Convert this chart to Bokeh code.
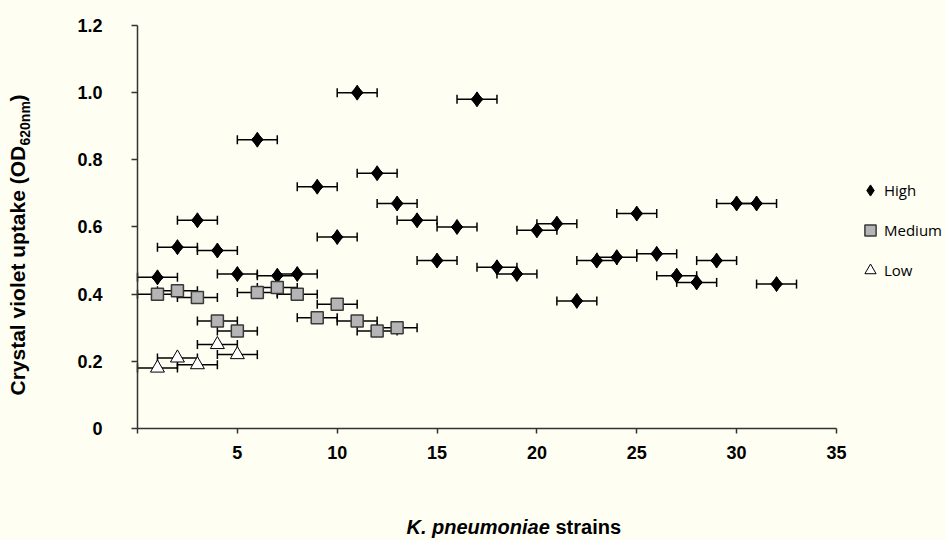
import math
from bokeh.plotting import figure
from bokeh.models import (ColumnDataSource, Whisker, TeeHead, FixedTicker, Label,
                          Legend, LegendItem, Range1d)
from bokeh.embed import file_html
from bokeh.resources import INLINE

# ---- data ----
high_x = list(range(1, 33))
high_y = [0.45, 0.54, 0.62, 0.53, 0.46, 0.86, 0.455, 0.46, 0.72, 0.57, 1.00, 0.76,
          0.67, 0.62, 0.50, 0.60, 0.98, 0.48, 0.46, 0.59, 0.61, 0.38, 0.50, 0.51,
          0.64, 0.52, 0.455, 0.435, 0.50, 0.67, 0.67, 0.43]
med_x = list(range(1, 14))
med_y = [0.40, 0.41, 0.39, 0.32, 0.29, 0.405, 0.42, 0.40, 0.33, 0.37, 0.32, 0.29, 0.30]
low_x = [1, 2, 3, 4, 5]
low_y = [0.18, 0.21, 0.19, 0.25, 0.22]
x_err = 1.0

x_ticks = [0, 5, 10, 15, 20, 25, 30, 35]
y_ticks = [0, 0.2, 0.4, 0.6, 0.8, 1.0, 1.2]
y_tick_labels = ["0", "0.2", "0.4", "0.6", "0.8", "1.0", "1.2"]
series_names = ["High", "Medium", "Low"]

CREAM = "#fefef3"
AXIS = "#333333"

W, H = 946, 540
# whole canvas is the frame; axes are pinned at x=0 / y=0 with bounds
p = figure(width=W, height=H, output_backend="svg", toolbar_location=None,
           x_range=Range1d(-6.86, 40.51), y_range=Range1d(-0.3335, 1.2744),
           min_border_left=0, min_border_right=0, min_border_top=0,
           min_border_bottom=0)
p.background_fill_color = CREAM
p.border_fill_color = CREAM
p.outline_line_color = None
p.xgrid.visible = False
p.ygrid.visible = False

def src(xs, ys):
    return ColumnDataSource(dict(x=xs, y=ys,
                                 lo=[v - x_err for v in xs],
                                 hi=[v + x_err for v in xs]))

s_high, s_med, s_low = src(high_x, high_y), src(med_x, med_y), src(low_x, low_y)

for s in (s_high, s_med, s_low):
    w = Whisker(source=s, base="y", lower="lo", upper="hi", dimension="width",
                line_color="black", line_width=1.5, level="underlay",
                upper_head=TeeHead(size=9, line_color="black", line_width=1.5),
                lower_head=TeeHead(size=9, line_color="black", line_width=1.5))
    p.add_layout(w)

# "High" diamonds: a rotated square plus a native diamond on the same points
p.scatter("x", "y", source=s_high, marker="square", angle=math.pi / 4,
          size=8.5, fill_color="black", line_color="black", line_width=1)
r_high = p.scatter("x", "y", source=s_high, marker="diamond", size=15,
                   fill_color="black", line_color="black", line_width=1)
r_med = p.scatter("x", "y", source=s_med, marker="square", size=12,
                  fill_color="#b5b5b5", line_color="#3a3a3a", line_width=1.5)
r_low = p.scatter("x", "y", source=s_low, marker="triangle", size=14,
                  fill_color="white", line_color="black", line_width=1)

# axes
xa = p.xaxis[0]
xa.ticker = FixedTicker(ticks=x_ticks)
xa.major_label_overrides = {0: ""}
xa.fixed_location = 0
xa.bounds = (0, 35)
ya = p.yaxis[0]
ya.ticker = FixedTicker(ticks=y_ticks)
ya.major_label_overrides = {t: l for t, l in zip(y_ticks, y_tick_labels)}
ya.fixed_location = 0
ya.bounds = (0, 1.2)
for ax in (xa, ya):
    ax.axis_line_color = AXIS
    ax.axis_line_width = 1.5
    ax.major_tick_line_color = AXIS
    ax.major_tick_line_width = 1.5
    ax.major_tick_in = 0
    ax.minor_tick_line_color = None
    ax.major_label_text_font = "Liberation Sans"
    ax.major_label_text_font_style = "bold"
    ax.major_label_text_font_size = "18px"
    ax.major_label_text_color = "black"
xa.major_tick_out = 5
xa.major_label_standoff = 13
ya.major_tick_out = 6
ya.major_label_standoff = 29

# axis titles as real text pieces (screen units, origin bottom-left of canvas)
TF = "Liberation Sans"
def lab(x, y, text, size, style="bold", angle=0.0):
    p.add_layout(Label(x=x, y=y, x_units="screen", y_units="screen", angle=angle,
                       text=text, text_font=TF, text_font_style=style,
                       text_font_size=size, text_color="black",
                       text_baseline="alphabetic", text_align="left"))

lab(17, 145, "Crystal violet uptake (OD", "21px", angle=math.pi / 2)
lab(24, 395, "620nm", "14px", angle=math.pi / 2)
lab(17, 439, ")", "21px", angle=math.pi / 2)
lab(406, 13.5, "K. pneumoniae", "20px", style="bold italic")
lab(555, 13.5, "strains", "20px")

legend = Legend(items=[LegendItem(label=series_names[0], renderers=[r_high]),
                       LegendItem(label=series_names[1], renderers=[r_med]),
                       LegendItem(label=series_names[2], renderers=[r_low])],
                location=(856, 256), orientation="vertical",
                label_text_font="Open Sans", label_text_font_size="15px",
                label_text_color="black", glyph_width=28, glyph_height=28,
                label_height=28, label_standoff=0, spacing=12, padding=0, margin=0,
                border_line_alpha=0, background_fill_alpha=0)
p.add_layout(legend)

open("out.html", "w").write(file_html(p, INLINE))
